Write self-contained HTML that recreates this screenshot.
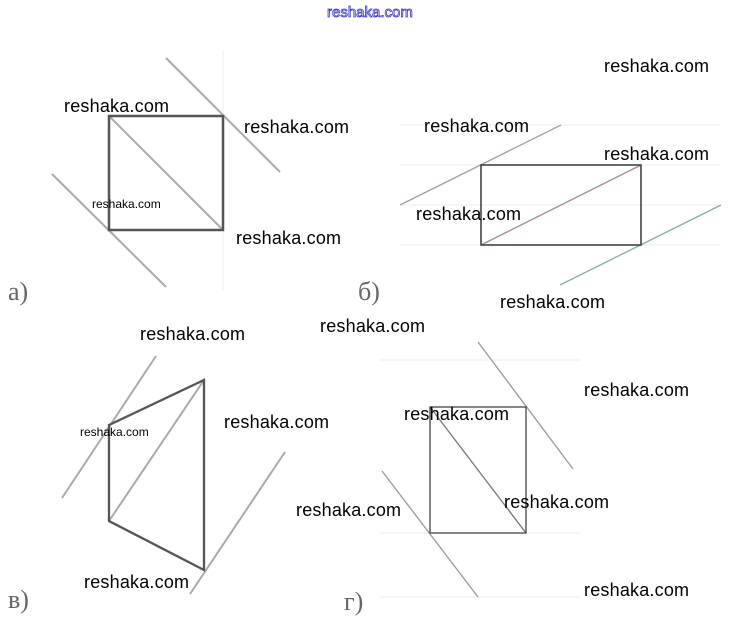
<!DOCTYPE html>
<html><head><meta charset="utf-8"><style>
html,body{margin:0;padding:0;background:#fff;}
svg{display:block}
.w{font-family:"Liberation Sans",sans-serif;font-size:18px;fill:#000;letter-spacing:0.2px}
.s{font-family:"Liberation Sans",sans-serif;font-size:12px;fill:#000;}
.l{font-family:"Liberation Serif",serif;font-size:26px;fill:#666;}
.g{stroke:#aaa;stroke-width:2;fill:none}
.k{stroke:#555;stroke-width:2.5;fill:none}
.t{stroke:#444;stroke-width:1.3;fill:none}
.gr{stroke:#eee;stroke-width:1}
</style></head><body>
<svg width="749" height="628" viewBox="0 0 749 628">
<g class="gr">
<line x1="400" y1="125" x2="720" y2="125"/><line x1="400" y1="165" x2="720" y2="165"/><line x1="400" y1="205" x2="720" y2="205"/><line x1="400" y1="245" x2="720" y2="245"/>
<line x1="380" y1="360" x2="580" y2="360"/><line x1="380" y1="533" x2="580" y2="533"/><line x1="380" y1="597" x2="580" y2="597"/>
<line x1="223" y1="50" x2="223" y2="290"/>
</g>
<text x="327" y="17" style="font-family:'Liberation Sans',sans-serif;font-size:15px;fill:#fff;stroke:#33c;stroke-width:0.8">reshaka.com</text>
<line class="g" x1="166" y1="58" x2="280" y2="172"/>
<line class="g" x1="52" y1="174" x2="166" y2="287"/>
<line class="g" x1="109" y1="116" x2="223" y2="230"/>
<rect class="k" x="109" y="116" width="114" height="114"/>
<line x1="400" y1="205" x2="561" y2="125" stroke="#a99" stroke-width="1.3"/>
<line x1="560" y1="285" x2="721" y2="205" stroke="#8aa" stroke-width="1.3"/>
<line x1="481" y1="245" x2="641" y2="165" stroke="#a88" stroke-width="1.3"/>
<rect x="481" y="165" width="160" height="80" fill="none" stroke="#444" stroke-width="1.6"/>
<line class="g" x1="62" y1="498" x2="156" y2="356" stroke-width="1.5"/>
<line class="g" x1="190" y1="594" x2="285" y2="452" stroke-width="1.5"/>
<line class="g" x1="109" y1="521" x2="204" y2="380" stroke-width="1.5"/>
<polygon points="109,425 204,380 204,570 109,521" fill="none" stroke="#555" stroke-width="2.3"/>
<line x1="478" y1="342" x2="573" y2="469" stroke="#999" stroke-width="1.3"/>
<line x1="382" y1="471" x2="478" y2="597" stroke="#999" stroke-width="1.3"/>
<line x1="430" y1="407" x2="526" y2="533" stroke="#777" stroke-width="1.3"/>
<rect class="t" x="430" y="407" width="96" height="126"/>
<text class="l" x="8" y="300">а)</text>
<text class="l" x="358" y="300">б)</text>
<text class="l" x="8" y="608">в)</text>
<text class="l" x="344" y="610">г)</text>
<g class="w">
<text x="64" y="112">reshaka.com</text>
<text x="244" y="133">reshaka.com</text>
<text x="236" y="244">reshaka.com</text>
<text x="604" y="72">reshaka.com</text>
<text x="424" y="132">reshaka.com</text>
<text x="604" y="160">reshaka.com</text>
<text x="416" y="220">reshaka.com</text>
<text x="500" y="308">reshaka.com</text>
<text x="140" y="340">reshaka.com</text>
<text x="320" y="332">reshaka.com</text>
<text x="224" y="428">reshaka.com</text>
<text x="296" y="516">reshaka.com</text>
<text x="84" y="588">reshaka.com</text>
<text x="584" y="396">reshaka.com</text>
<text x="404" y="420">reshaka.com</text>
<text x="504" y="508">reshaka.com</text>
<text x="584" y="596">reshaka.com</text>
</g>
<text class="s" x="92" y="208">reshaka.com</text>
<text class="s" x="80" y="436">reshaka.com</text>
</svg>
</body></html>
